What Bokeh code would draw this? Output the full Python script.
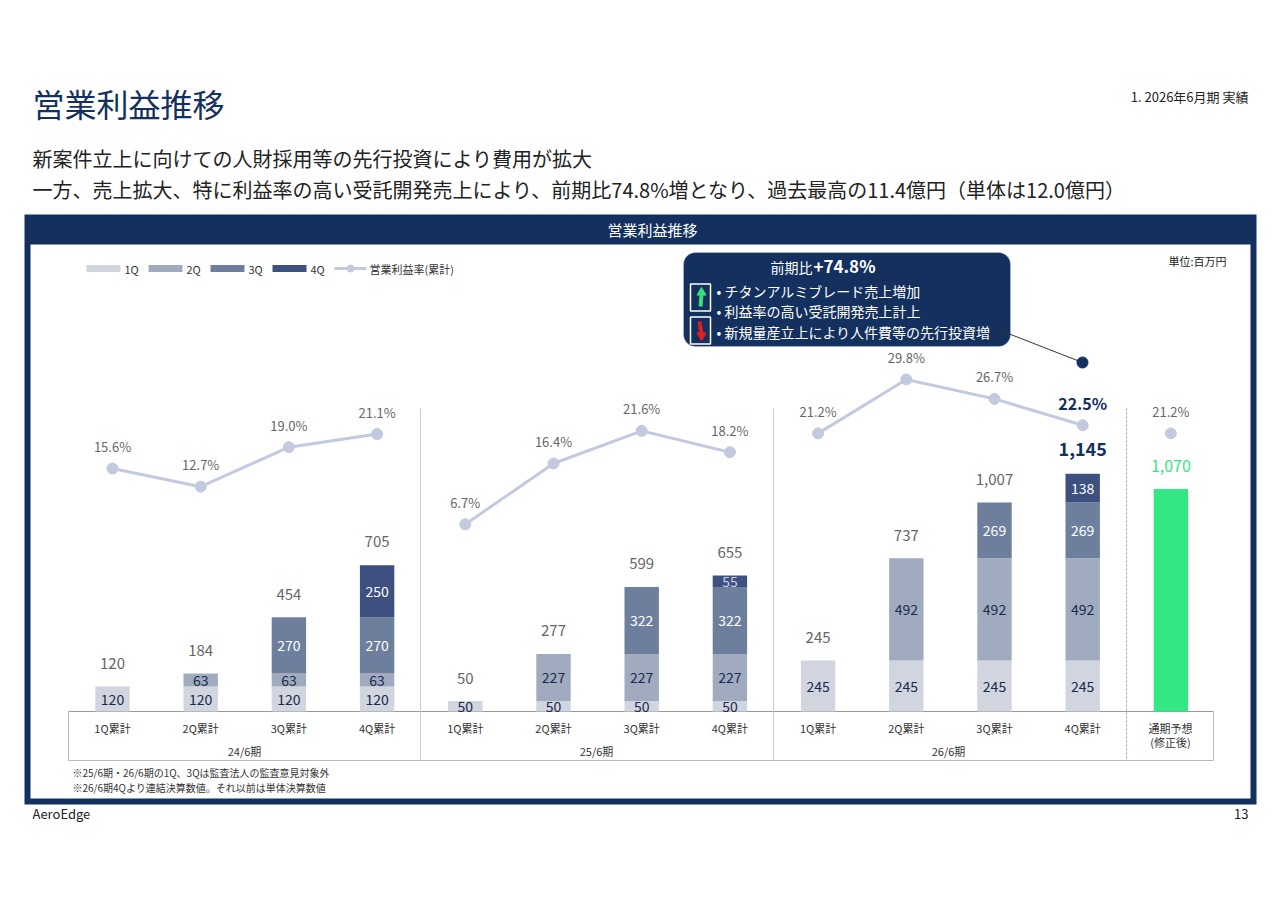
from bokeh.plotting import figure
from bokeh.models import Range1d, BoxAnnotation
from bokeh.core.properties import value
from bokeh.embed import file_html
from bokeh.resources import INLINE

# ---------------- data ----------------
categories = ["1Q累計", "2Q累計", "3Q累計", "4Q累計"] * 3 + ["通期予想"]
periods = ["24/6期", "25/6期", "26/6期"]
q1 = [120, 120, 120, 120, 50, 50, 50, 50, 245, 245, 245, 245]
q2 = [0, 63, 63, 63, 0, 227, 227, 227, 0, 492, 492, 492]
q3 = [0, 0, 270, 270, 0, 0, 322, 322, 0, 0, 269, 269]
q4 = [0, 0, 0, 250, 0, 0, 0, 55, 0, 0, 0, 138]
totals = [120, 184, 454, 705, 50, 277, 599, 655, 245, 737, 1007, 1145]
forecast_value = 1070
rates = [15.6, 12.7, 19.0, 21.1, 6.7, 16.4, 21.6, 18.2, 21.2, 29.8, 26.7, 22.5]
forecast_rate = 21.2

FONT = "Noto Sans CJK JP"
NAVY = "#13305e"
COLS = ["#d0d5e0", "#a0abc0", "#6e7f9e", "#3d5080"]
LINE = "#c3cae0"
GREEN = "#33e882"

W, H = 1264, 889
X0, X1, Y0, Y1 = 0, 1264, 0, 889
p = figure(width=W, height=H, x_range=Range1d(X0, X1), y_range=Range1d(Y1, Y0),
           output_backend="svg", toolbar_location=None, min_border=0)
p.axis.visible = False
p.grid.visible = False
p.outline_line_color = None
p.background_fill_color = "white"

px0, pstep = 112, 88.2
p.extra_x_ranges["idx"] = Range1d((X0 - px0) / pstep, (X1 - px0) / pstep)
yb, yk = 711, 238 / 1145
p.extra_y_ranges["val"] = Range1d((yb - Y1) / yk, (yb - Y0) / yk)
r0, rk = 565.8, 6.27
p.extra_y_ranges["pct"] = Range1d((r0 - Y1) / rk, (r0 - Y0) / rk)


def txt(x, y, s, size, color="#1a1a1a", align="left", bold=False, **kw):
    p.text(x=[x], y=[y], text=[s], text_font=value(FONT), text_font_size=f"{size}px",
           text_color=color, text_align=align, text_baseline="middle",
           text_font_style="bold" if bold else "normal", **kw)


txt(32, 102, "営業利益推移", 32, NAVY)
txt(1248, 96, "1. 2026年6月期 実績", 13, "#222", "right")
txt(32, 158, "新案件立上に向けての人財採用等の先行投資により費用が拡大", 20, "#222")
txt(32, 189, "一方、売上拡大、特に利益率の高い受託開発売上により、前期比74.8%増となり、過去最高の11.4億円（単体は12.0億円）", 20, "#222")
txt(32, 813, "AeroEdge", 13, "#222")
txt(1248, 813, "13", 13, "#222", "right")

p.add_layout(BoxAnnotation(left=24, right=1256, top=214, bottom=804, fill_color=NAVY,
                           fill_alpha=1, line_color=None, level="underlay"))
p.add_layout(BoxAnnotation(left=30, right=1250, top=244, bottom=798, fill_color="white",
                           fill_alpha=1, line_color=None, level="underlay"))
p.add_layout(BoxAnnotation(left=683, right=1010, top=252, bottom=346, fill_color=NAVY,
                           fill_alpha=1, line_color="#dde", line_width=1, border_radius=12,
                           level="underlay"))
txt(652, 229, "営業利益推移", 15, "white", "center")
txt(1226, 260, "単位:百万円", 11, "#222", "right")

lx = 86
for i, c in enumerate(COLS):
    p.rect(x=[lx + 17 + i * 62], y=[268], width=34, height=7, fill_color=c, line_color=None)
    txt(lx + 38 + i * 62, 268, f"{i+1}Q", 11, "#333")
p.line(x=[334, 366], y=[268, 268], line_color=LINE, line_width=3)
p.scatter(x=[350], y=[268], size=7, color=LINE)
txt(369, 268, "営業利益率(累計)", 11, "#333")

idx = list(range(13))
p.segment(x0=[68], y0=[711], x1=[1213], y1=[711], line_color="#999", line_width=1)
p.segment(x0=[68, 1213, 68], y0=[711, 711, 760], x1=[68, 1213, 1213], y1=[760, 760, 760],
          line_color="#bbb", line_width=1)
p.segment(x0=[420, 773], y0=[408, 408], x1=[420, 773], y1=[760, 760], line_color="#ccc", line_width=1)
p.segment(x0=[1126], y0=[408], x1=[1126], y1=[760], line_color="#999", line_width=1, line_dash="2 2")
for i, c in enumerate(categories[:12]):
    p.text(x=[i], y=[727], text=[c], x_range_name="idx", text_font=value(FONT), text_font_size="11px",
           text_color="#333", text_align="center", text_baseline="middle")
txt(1170, 727, "通期予想", 11, "#333", "center")
txt(1170, 741, "(修正後)", 11, "#333", "center")
for k, per in enumerate(periods):
    txt(244 + k * 352, 750, per, 11, "#333", "center")
txt(72, 772, "※25/6期・26/6期の1Q、3Qは監査法人の監査意見対象外", 10, "#333")
txt(72, 787, "※26/6期4Qより連結決算数値。それ以前は単体決算数値", 10, "#333")

bottom = [0] * 12
for series, col in zip([q1, q2, q3, q4], COLS):
    top = [b + v for b, v in zip(bottom, series)]
    p.vbar(x=idx[:12], bottom=bottom, top=top, width=0.39, fill_color=col, line_color=None,
           x_range_name="idx", y_range_name="val")
    for i, v in enumerate(series):
        if v:
            tc = "white" if col in COLS[2:] else "#1a2a4a"
            p.text(x=[i], y=[(bottom[i] + top[i]) / 2], text=[str(v)], x_range_name="idx",
                   y_range_name="val", text_font=value(FONT), text_font_size="14px",
                   text_color=tc if not (col == COLS[3] and i == 7) else "#c8cfe0",
                   text_align="center", text_baseline="middle")
    bottom = top
p.vbar(x=[12], bottom=[0], top=[forecast_value], width=0.39, fill_color=GREEN, line_color=None,
       x_range_name="idx", y_range_name="val")

for i, t in enumerate(totals):
    if i == 11:
        continue
    p.text(x=[i], y=[t], text=[f"{t:,}"], x_range_name="idx", y_range_name="val",
           y_offset=-23, text_font=value(FONT), text_font_size="15px", text_color="#666",
           text_align="center", text_baseline="middle")
p.text(x=[11], y=[totals[11]], text=[f"{totals[11]:,}"], x_range_name="idx", y_range_name="val",
       y_offset=-25, text_font=value(FONT), text_font_size="18px", text_color=NAVY,
       text_font_style="bold", text_align="center", text_baseline="middle")
p.text(x=[12], y=[forecast_value], text=[f"{forecast_value:,}"], x_range_name="idx", y_range_name="val",
       y_offset=-23, text_font=value(FONT), text_font_size="16px", text_color=GREEN,
       text_align="center", text_baseline="middle")

for k in range(3):
    xs = idx[k * 4:(k + 1) * 4]
    ys = rates[k * 4:(k + 1) * 4]
    p.line(x=xs, y=ys, line_color=LINE, line_width=3, x_range_name="idx", y_range_name="pct")
    p.scatter(x=xs, y=ys, size=11, color=LINE, x_range_name="idx", y_range_name="pct")
p.scatter(x=[12], y=[forecast_rate], size=11, color=LINE, x_range_name="idx", y_range_name="pct")
for i, r in enumerate(rates + [forecast_rate]):
    big = i == 11
    p.text(x=[i], y=[r], text=[f"{r:.1f}%"], x_range_name="idx", y_range_name="pct",
           y_offset=-22, text_font=value(FONT), text_font_size="16px" if big else "13px",
           text_color=NAVY if big else "#666", text_font_style="bold" if big else "normal",
           text_align="center", text_baseline="middle")

p.segment(x0=[1000], y0=[330], x1=[1082], y1=[362], line_color="#333", line_width=1)
p.scatter(x=[1082], y=[362], size=11, color=NAVY)
txt(770, 266, "前期比", 14, "white")
txt(813, 265, "+74.8%", 17, "white", bold=True)
txt(716, 290, "•  チタンアルミブレード売上増加", 14, "white")
txt(716, 310, "•  利益率の高い受託開発売上計上", 14, "white")
txt(716, 331, "•  新規量産立上により人件費等の先行投資増", 14, "white")
p.rect(x=[700, 700], y=[297, 330], width=20, height=27, fill_color=NAVY, line_color="white", line_width=1.5)
p.scatter(x=[701], y=[292], size=9, marker="triangle", color="#3cdc78")
p.segment(x0=[700], y0=[306], x1=[701], y1=[294], line_color="#3cdc78", line_width=4)
p.scatter(x=[701], y=[335], size=9, marker="inverted_triangle", color="#e02020")
p.segment(x0=[699], y0=[321], x1=[701], y1=[333], line_color="#e02020", line_width=4)

open("out.html", "w").write(file_html(p, INLINE))
